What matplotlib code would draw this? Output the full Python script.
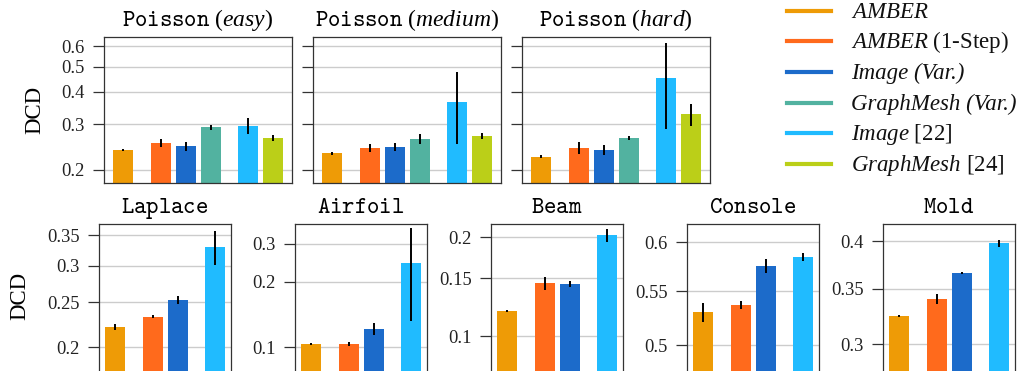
import matplotlib
matplotlib.use("Agg")
import matplotlib.pyplot as plt
from matplotlib.lines import Line2D
from matplotlib.ticker import FixedLocator, FixedFormatter, NullLocator

plt.rcParams['font.family'] = ['Liberation Serif', 'DejaVu Serif']
plt.rcParams['mathtext.fontset'] = 'custom'
plt.rcParams['mathtext.rm'] = 'Liberation Serif'
plt.rcParams['mathtext.it'] = 'Liberation Serif:italic'
plt.rcParams['mathtext.tt'] = 'cmtt10'

# ---------------- data ----------------
# labels with '$' use mathtext (mixed styles); plain ones are drawn fully italic
methods = [r'$\mathit{AMBER}$', r'$\mathit{AMBER}$ (1-Step)', 'Image (Var.)',
           'GraphMesh (Var.)', r'$\mathit{Image}$ [22]', r'$\mathit{GraphMesh}$ [24]']
colors = ['#EE9B06', '#FF6A1C', '#1C6BCA', '#52B2A0', '#20BBFF', '#BBCF18']

top_titles = [r'$\mathtt{Poisson}\ (\mathit{easy})$', r'$\mathtt{Poisson}\ (\mathit{medium})$',
              r'$\mathtt{Poisson}\ (\mathit{hard})$']
poisson_easy = [0.239, 0.254, 0.247, 0.292, 0.295, 0.265]
poisson_easy_err = [0.002, 0.008, 0.010, 0.007, 0.021, 0.007]
poisson_medium = [0.232, 0.243, 0.245, 0.263, 0.365, 0.270]
poisson_medium_err = [0.003, 0.008, 0.008, 0.011, 0.113, 0.0075]
poisson_hard = [0.2245, 0.243, 0.239, 0.265, 0.452, 0.328]
poisson_hard_err = [0.003, 0.012, 0.010, 0.005, 0.165, 0.032]
top_ticks = [0.2, 0.3, 0.4, 0.5, 0.6]
top_tick_labels = ['0.2', '0.3', '0.4', '0.5', '0.6']

bottom_titles = [r'$\mathtt{Laplace}$', r'$\mathtt{Airfoil}$', r'$\mathtt{Beam}$',
                 r'$\mathtt{Console}$', r'$\mathtt{Mold}$']
bottom_methods = [0, 1, 2, 4]
laplace = [0.2213, 0.233, 0.2534, 0.330]
laplace_err = [0.003, 0.0015, 0.005, 0.028]
airfoil = [0.1035, 0.1035, 0.1214, 0.2435]
airfoil_err = [0.0015, 0.002, 0.0077, 0.111]
beam = [0.1193, 0.1451, 0.1440, 0.2027]
beam_err = [0.001, 0.0065, 0.003, 0.0095]
console = [0.5303, 0.5369, 0.5751, 0.5843]
console_err = [0.009, 0.004, 0.007, 0.004]
mold = [0.3241, 0.3401, 0.3656, 0.3973]
mold_err = [0.001, 0.005, 0.001, 0.004]
laplace_ticks = [0.2, 0.25, 0.3, 0.35]
airfoil_ticks = [0.1, 0.2, 0.3]
beam_ticks = [0.1, 0.15, 0.2]
console_ticks = [0.5, 0.55, 0.6]
mold_ticks = [0.3, 0.35, 0.4]

# ---------------- layout ----------------
W, H = 1028, 371
fig = plt.figure(figsize=(W / 100, H / 100), dpi=100)

top_pos = [0, 1.5, 2.5, 3.5, 5, 6]
bot_pos = [0, 1.5, 2.5, 4]


def style_axis(ax, ticks, labels, ylim, xlim, show_labels=True):
    ax.set_yscale('log')
    ax.set_ylim(*ylim)
    ax.set_xlim(*xlim)
    ax.yaxis.set_major_locator(FixedLocator(ticks))
    ax.yaxis.set_minor_locator(NullLocator())
    if show_labels:
        ax.yaxis.set_major_formatter(FixedFormatter(labels))
    else:
        ax.yaxis.set_major_formatter(FixedFormatter([''] * len(ticks)))
    ax.set_xticks([])
    ax.grid(axis='y', color='#cccccc', lw=1.0)
    ax.set_axisbelow(True)
    for s in ax.spines.values():
        s.set_color('#333333')
        s.set_linewidth(0.9)
    ax.tick_params(axis='y', length=8, width=0.9, color='#333333', pad=6,
                   labelsize=13.3, labelcolor='#222222')


def px_axes(left, top, width, bottom):
    return fig.add_axes([left / W, 1 - bottom / H, width / W, (bottom - top) / H])


top_data = [(poisson_easy, poisson_easy_err), (poisson_medium, poisson_medium_err),
            (poisson_hard, poisson_hard_err)]
top_lefts = [104, 313, 522]
for i, (vals, errs) in enumerate(top_data):
    ax = px_axes(top_lefts[i], 37, 188, 183)
    ax.bar(top_pos, [v - 0.001 for v in vals], bottom=0.001, width=0.8, color=colors,
           zorder=2)
    ax.errorbar(top_pos, vals, yerr=errs, fmt='none', ecolor='black', elinewidth=1.4,
                capsize=0, zorder=3)
    style_axis(ax, top_ticks, top_tick_labels, (0.178, 0.65), (-0.76, 6.76),
               show_labels=(i == 0))
    ax.set_title(top_titles[i], fontsize=17, pad=8)

bot_data = [(laplace, laplace_err, laplace_ticks, (0.1758, 0.370)),
            (airfoil, airfoil_err, airfoil_ticks, (0.0762, 0.369)),
            (beam, beam_err, beam_ticks, (0.0774, 0.2195)),
            (console, console_err, console_ticks, (0.4762, 0.6197)),
            (mold, mold_err, mold_ticks, (0.2767, 0.4195))]
bot_lefts = [99, 295, 491, 687, 883]
for i, (vals, errs, ticks, ylim) in enumerate(bot_data):
    ax = px_axes(bot_lefts[i], 224, 132, 373)
    ax.bar(bot_pos, [v - 0.001 for v in vals], bottom=0.001, width=0.8,
           color=[colors[m] for m in bottom_methods], zorder=2)
    ax.errorbar(bot_pos, vals, yerr=errs, fmt='none', ecolor='black', elinewidth=1.4,
                capsize=0, zorder=3)
    style_axis(ax, ticks, [('%g' % t) for t in ticks], ylim, (-0.64, 4.64))
    ax.set_title(bottom_titles[i], fontsize=17, pad=8)

# y labels
fig.text(35 / W, 1 - 110 / H, 'DCD', rotation=90, ha='center', va='center', fontsize=16.5)
fig.text(19.5 / W, 1 - 296 / H, 'DCD', rotation=90, ha='center', va='center', fontsize=16.5)

# legend
row0 = 10.7
row_step = 30.66
for k, (lab, c) in enumerate(zip(methods, colors)):
    y = row0 + k * row_step
    fig.add_artist(Line2D([787 / W, 831 / W], [1 - y / H, 1 - y / H], color=c, lw=3,
                          transform=fig.transFigure))
    style = 'normal' if '$' in lab else 'italic'
    fig.text(851 / W, 1 - (y + 7) / H, lab, ha='left', va='baseline', fontsize=16.5,
             style=style, color='#111111')

fig.savefig('out.png', dpi=100)
